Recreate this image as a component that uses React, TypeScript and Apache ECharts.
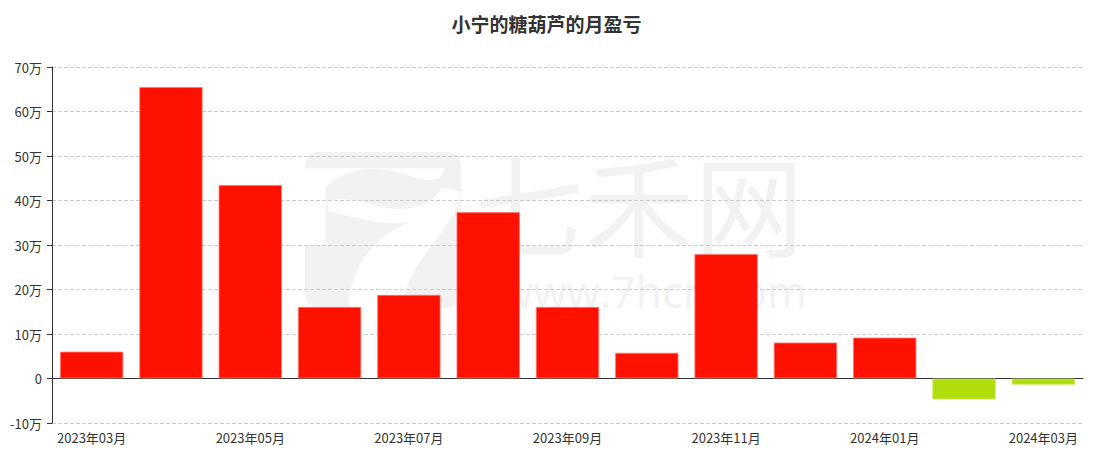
import React, { useEffect, useRef } from "react";
import * as echarts from "echarts";

const titleText = "小宁的糖葫芦的月盈亏";
const months = [
  "2023年03月", "2023年04月", "2023年05月", "2023年06月", "2023年07月", "2023年08月",
  "2023年09月", "2023年10月", "2023年11月", "2023年12月", "2024年01月", "2024年02月", "2024年03月",
];
const profit = [60500, 655000, 435000, 161000, 188000, 374000, 161000, 58000, 280000, 81000, 92000, -47000, -14000];

const RED = "#ff1100";
const GREEN = "#b2dd0c";
const WM = "#f2f2f2";

// white "7" cut-out of the watermark logo (drawn in a 3x local space)
const sevenPath =
  "M30,70 L450,70 C445,100 420,112 380,102 C330,90 270,62 200,74 C150,84 112,100 92,128 L92,300 L30,300 Z " +
  "M100,168 C180,150 230,188 300,192 C370,196 420,170 440,128 L497,140 C485,260 340,330 320,492 L160,492 C168,360 230,280 350,228 C280,250 180,215 100,200 Z";

let registered = false;
function registerLogo() {
  if (registered) return;
  echarts.graphic.registerShape("logo7", echarts.graphic.extendPath(sevenPath, {}) as any);
  registered = true;
}

export default function App() {
  const ref = useRef<HTMLDivElement>(null);
  useEffect(() => {
    registerLogo();
    const chart = echarts.init(ref.current!, null, { renderer: "svg" });
    chart.setOption({
      animation: false,
      title: {
        text: titleText,
        left: "center",
        top: 9,
        textStyle: { fontSize: 19, fontWeight: "bold", color: "#333", fontFamily: "Noto Sans CJK SC" },
      },
      graphic: [
        {
          type: "rect",
          z: -20,
          silent: true,
          shape: { x: 305, y: 152, width: 156, height: 156, r: 14 },
          style: { fill: WM },
        },
        {
          type: "logo7",
          x: 295,
          y: 145,
          scaleX: 1 / 3,
          scaleY: 1 / 3,
          z: -19,
          silent: true,
          style: { fill: "#ffffff" },
        },
        {
          type: "text",
          left: 474,
          top: 146,
          z: -10,
          silent: true,
          style: { text: "七禾网", fontSize: 110, fill: WM, fontFamily: "Noto Sans CJK SC" },
        },
        {
          type: "text",
          left: 500,
          top: 270,
          z: -10,
          silent: true,
          style: { text: "www.7hcn.com", fontSize: 43, fill: WM, fontFamily: "Open Sans" },
        },
      ],
      grid: { left: 52, right: 10, top: 67, bottom: 31, containLabel: false },
      xAxis: {
        type: "category",
        data: months,
        axisLine: { lineStyle: { color: "#333" } },
        axisTick: { alignWithLabel: true, interval: 1, lineStyle: { color: "#333" } },
        axisLabel: { interval: 1, color: "#333", fontSize: 13, fontFamily: "Noto Sans CJK SC", margin: 8 },
      },
      yAxis: {
        type: "value",
        min: -100000,
        max: 700000,
        interval: 100000,
        axisLine: { show: true, lineStyle: { color: "#333" } },
        axisTick: { show: true, lineStyle: { color: "#333" } },
        axisLabel: {
          color: "#333",
          fontSize: 13,
          margin: 10,
          fontFamily: "Noto Sans CJK SC",
          formatter: (v: number) => (v === 0 ? "0" : v / 10000 + "万"),
        },
        splitLine: { lineStyle: { type: "dashed", color: "#ccc" } },
      },
      series: [
        {
          type: "bar",
          barWidth: "80%",
          data: profit.map((v) => ({
            value: v,
            itemStyle: {
              color: v >= 0 ? RED : GREEN,
              borderColor: v >= 0 ? "rgba(255,120,110,0.8)" : "rgba(200,235,90,0.8)",
              borderWidth: 1,
            },
          })),
        },
      ],
    });
    return () => chart.dispose();
  }, []);
  return <div ref={ref} style={{ width: 1093, height: 454, position: "absolute", left: 0, top: 0 }} />;
}
